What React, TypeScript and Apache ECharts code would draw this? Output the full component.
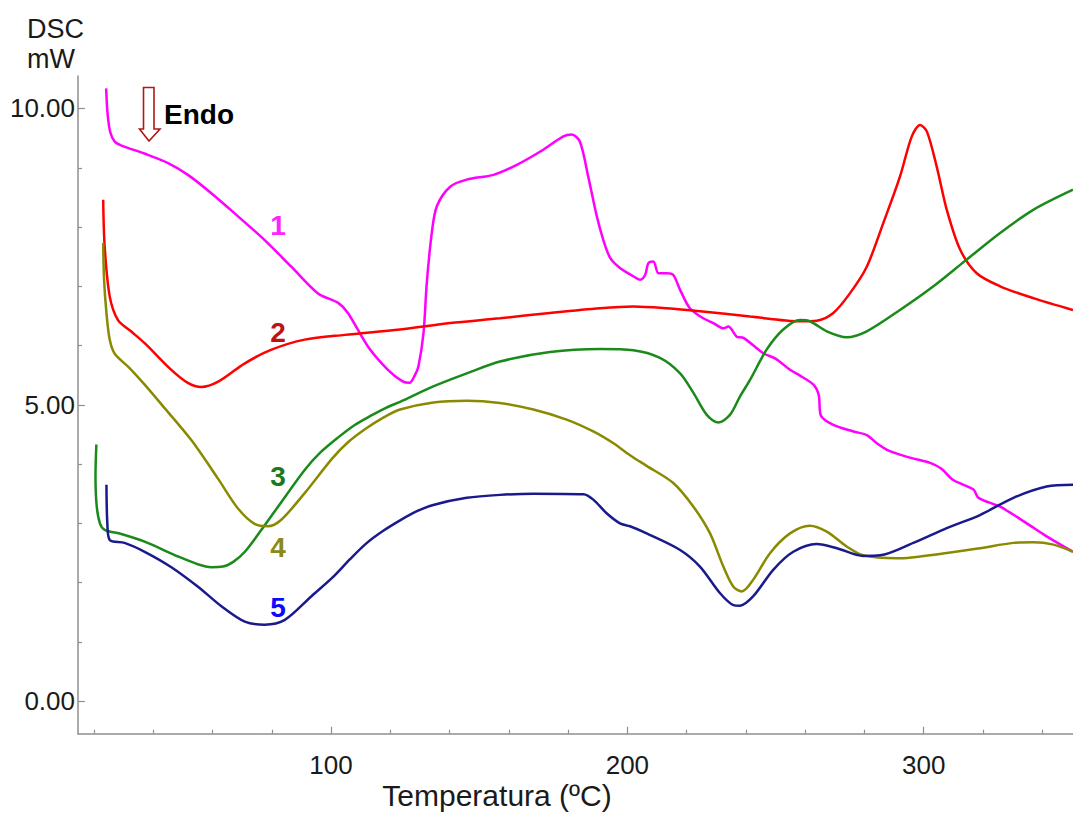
import React, { useEffect, useRef } from "react";
import * as echarts from "echarts";

// Temperature (ºC) vs DSC (mW) for the five samples
const curve1: [number, number][] = [
  [24.1, 10.34], [24.6, 9.9], [25.5, 9.6], [27.0, 9.44], [29.5, 9.37], [37.0, 9.24], [45.0, 9.08],
  [51.7, 8.88], [59.6, 8.57], [68.6, 8.18], [77.6, 7.78], [86.6, 7.33], [95.6, 6.88], [102.4, 6.72],
  [105.7, 6.55], [112.5, 5.98], [119.2, 5.59], [124.0, 5.4], [126.5, 5.37], [128.3, 5.5], [129.5, 5.65],
  [131.2, 6.21], [132.3, 7.05], [134.0, 7.9], [135.7, 8.35], [140.2, 8.68], [145.8, 8.8], [154.8, 8.88],
  [162.7, 9.05], [170.5, 9.27], [178.4, 9.53], [181.2, 9.56], [184.0, 9.44], [186.8, 8.85], [189.7, 8.18],
  [191.9, 7.78], [194.2, 7.48], [197.5, 7.31], [202.0, 7.17], [204.3, 7.11], [206.0, 7.19], [207.1, 7.39],
  [208.8, 7.42], [210.5, 7.22], [213.3, 7.22], [215.5, 7.19], [217.8, 6.94], [221.1, 6.63], [225.6, 6.46],
  [229.0, 6.38], [232.4, 6.29], [234.1, 6.32], [236.9, 6.15], [239.2, 6.13], [245.9, 5.87], [250.0, 5.78],
  [254.9, 5.59], [258.0, 5.5], [262.8, 5.34], [264.6, 5.16], [265.3, 4.82], [269.5, 4.66], [276.3, 4.55],
  [280.8, 4.49], [284.2, 4.35], [287.6, 4.24], [292.0, 4.16], [296.0, 4.1], [302.2, 4.02], [306.0, 3.92],
  [310.0, 3.73], [316.8, 3.57], [318.5, 3.43], [325.8, 3.28], [334.8, 3.0], [341.5, 2.78], [350.4, 2.52],
];

const curve2: [number, number][] = [
  [23.1, 8.46], [23.6, 7.67], [25.3, 6.83], [28.1, 6.43], [32.5, 6.24], [37.1, 6.04], [46.1, 5.59],
  [51.7, 5.37], [56.2, 5.3], [61.9, 5.39], [70.9, 5.7], [79.9, 5.93], [91.1, 6.1], [104.6, 6.18],
  [123.3, 6.27], [140.2, 6.38], [157.0, 6.46], [173.9, 6.55], [190.8, 6.63], [202.0, 6.66], [213.3, 6.63],
  [224.5, 6.58], [241.4, 6.49], [258.3, 6.41], [263.9, 6.42], [269.5, 6.55], [275.1, 6.88], [280.8, 7.33],
  [286.4, 8.07], [292.0, 8.85], [296.0, 9.53], [298.8, 9.72], [301.1, 9.61], [304.4, 9.02], [307.8, 8.29],
  [312.3, 7.62], [317.9, 7.22], [325.8, 7.0], [337.0, 6.8], [350.4, 6.6],
];

const curve3: [number, number][] = [
  [20.8, 4.33], [20.5, 3.8], [20.9, 3.3], [22.0, 3.0], [23.6, 2.89], [29.2, 2.82], [37.1, 2.69],
  [48.4, 2.44], [55.0, 2.31], [59.6, 2.26], [63.5, 2.27], [67.0, 2.35], [70.9, 2.52], [76.5, 2.89],
  [82.1, 3.28], [91.1, 3.9], [96.5, 4.2], [102.4, 4.45], [108.0, 4.66], [113.6, 4.82], [118.5, 4.95],
  [123.3, 5.05], [134.5, 5.31], [145.8, 5.53], [157.0, 5.73], [173.9, 5.89], [190.8, 5.94], [202.0, 5.92],
  [211.0, 5.79], [217.8, 5.53], [222.3, 5.2], [226.8, 4.83], [230.7, 4.7], [234.6, 4.83], [238.0, 5.14],
  [241.4, 5.42], [247.0, 5.93], [252.6, 6.27], [258.3, 6.43], [261.6, 6.41], [267.3, 6.24], [274.0, 6.14],
  [280.8, 6.24], [292.0, 6.6], [303.3, 7.0], [314.5, 7.45], [325.8, 7.9], [337.0, 8.29], [350.4, 8.63],
];

const curve4: [number, number][] = [
  [23.1, 7.73], [23.4, 7.11], [24.2, 6.55], [25.3, 6.1], [27.0, 5.86], [32.0, 5.62], [37.1, 5.34],
  [43.9, 4.94], [52.9, 4.4], [61.9, 3.75], [68.6, 3.25], [74.2, 2.99], [78.7, 2.95], [83.2, 3.06],
  [91.1, 3.51], [100.5, 4.1], [106.0, 4.38], [111.8, 4.6], [117.5, 4.78], [123.3, 4.92], [134.5, 5.04],
  [145.8, 5.07], [157.0, 5.03], [168.3, 4.92], [179.5, 4.75], [188.5, 4.55], [195.3, 4.35], [200.9, 4.15],
  [206.5, 3.97], [215.5, 3.68], [222.3, 3.28], [227.9, 2.83], [232.4, 2.27], [235.8, 1.93], [238.6, 1.85],
  [242.5, 2.05], [248.2, 2.5], [254.9, 2.83], [261.6, 2.96], [267.3, 2.86], [274.0, 2.61], [279.6, 2.46],
  [290.9, 2.41], [307.8, 2.5], [319.0, 2.58], [330.3, 2.67], [337.0, 2.68], [343.8, 2.64], [350.4, 2.52],
];

const curve5: [number, number][] = [
  [24.2, 3.65], [24.5, 3.0], [25.3, 2.72], [30.3, 2.67], [37.1, 2.52], [46.1, 2.26], [55.1, 1.93],
  [63.0, 1.6], [70.9, 1.34], [77.6, 1.29], [84.4, 1.37], [93.4, 1.77], [100.8, 2.1], [106.5, 2.4],
  [112.1, 2.67], [117.5, 2.87], [123.3, 3.05], [128.8, 3.2], [134.5, 3.31], [145.8, 3.43], [157.0, 3.48],
  [168.3, 3.5], [185.2, 3.49], [188.5, 3.4], [193.0, 3.17], [197.5, 3.0], [200.9, 2.95], [206.5, 2.83],
  [217.8, 2.55], [224.5, 2.27], [231.3, 1.82], [235.8, 1.62], [238.0, 1.61], [242.5, 1.77], [249.3, 2.22],
  [256.0, 2.52], [263.9, 2.65], [270.7, 2.58], [279.6, 2.45], [285.3, 2.46], [296.5, 2.67], [307.8, 2.92],
  [319.0, 3.14], [330.3, 3.43], [341.5, 3.62], [350.4, 3.65],
];

const curveNames = ["1", "2", "3", "4", "5"];
const curveColors = ["#ff00ff", "#ff0000", "#1a8a1a", "#8a8a00", "#1a1a8c"];
const labelColors = ["#ff22ff", "#c01010", "#1a7a1a", "#8a8a1a", "#0a0aff"];

const xMajorTicks = [100, 200, 300];
const xMinorTicks = [20, 40, 60, 80, 120, 140, 160, 180, 220, 240, 260, 280, 320, 340];
const yMajorTicks = [0, 5, 10];
const yMinorTicks = [1, 2, 3, 4, 6, 7, 8, 9];

const X_MIN = 14.6;
const X_MAX = 350.4;
const Y_MIN = -0.55;
const Y_MAX = 10.55;

const FONT = '"Liberation Sans", Arial, Helvetica, sans-serif';
const AXIS_COLOR = "#8f8f8f";

export default function App() {
  const ref = useRef<HTMLDivElement>(null);

  useEffect(() => {
    if (!ref.current) return;
    const chart = echarts.init(ref.current, undefined, { renderer: "svg" });
    const curves = [curve1, curve2, curve3, curve4, curve5];

    const baseX = {
      type: "value",
      min: X_MIN,
      max: X_MAX,
      position: "bottom",
      splitLine: { show: false },
    };
    const baseY = {
      type: "value",
      min: Y_MIN,
      max: Y_MAX,
      position: "left",
      splitLine: { show: false },
    };

    const option: any = {
      animation: false,
      backgroundColor: "#ffffff",
      grid: {
        left: 78,
        right: 0,
        top: 75.9,
        bottom: 83.3,
        containLabel: false,
        outerBoundsMode: "none",
      },
      xAxis: [
        {
          ...baseX,
          axisLine: { show: true, onZero: false, lineStyle: { color: AXIS_COLOR, width: 1.5 } },
          axisTick: {
            show: true,
            inside: true,
            length: 4,
            customValues: xMinorTicks,
            lineStyle: { color: AXIS_COLOR, width: 1.2 },
          },
          axisLabel: { show: false },
        },
        {
          ...baseX,
          axisLine: { show: false, onZero: false },
          axisTick: {
            show: true,
            inside: true,
            length: 7,
            customValues: xMajorTicks,
            lineStyle: { color: AXIS_COLOR, width: 1.2 },
          },
          axisLabel: {
            show: true,
            customValues: xMajorTicks,
            fontSize: 26,
            fontFamily: FONT,
            color: "#1a1a1a",
            margin: 18,
          },
        },
      ],
      yAxis: [
        {
          ...baseY,
          axisLine: { show: true, onZero: false, lineStyle: { color: AXIS_COLOR, width: 1.5 } },
          axisTick: {
            show: true,
            inside: true,
            length: 4,
            customValues: yMinorTicks,
            lineStyle: { color: AXIS_COLOR, width: 1.2 },
          },
          axisLabel: { show: false },
        },
        {
          ...baseY,
          axisLine: { show: false, onZero: false },
          axisTick: {
            show: true,
            inside: true,
            length: 7,
            customValues: yMajorTicks,
            lineStyle: { color: AXIS_COLOR, width: 1.2 },
          },
          axisLabel: {
            show: true,
            customValues: yMajorTicks,
            formatter: (v: number) => v.toFixed(2),
            fontSize: 26,
            fontFamily: FONT,
            color: "#1a1a1a",
            margin: 3,
          },
        },
      ],
      series: curves.map((d, i) => ({
        name: curveNames[i],
        type: "line",
        xAxisIndex: 0,
        yAxisIndex: 0,
        data: d,
        showSymbol: false,
        smooth: 0.3,
        clip: true,
        lineStyle: { color: curveColors[i], width: 2.5 },
        itemStyle: { color: curveColors[i] },
      })),
      graphic: [
        {
          type: "text",
          left: 27,
          top: 15,
          style: { text: "DSC", font: `27px ${FONT}`, fill: "#1a1a1a" },
        },
        {
          type: "text",
          left: 27,
          top: 45,
          style: { text: "mW", font: `27px ${FONT}`, fill: "#1a1a1a" },
        },
        {
          type: "text",
          x: 497,
          y: 795,
          style: {
            text: "Temperatura (ºC)",
            font: `30px ${FONT}`,
            fill: "#1a1a1a",
            align: "center",
            verticalAlign: "middle",
          },
        },
        {
          type: "polygon",
          shape: {
            points: [
              [143.5, 87.5], [154, 87.5], [154, 129], [160, 129], [149, 141], [139.5, 129], [143.5, 129],
            ],
          },
          style: { fill: "#ffffff", stroke: "#b01818", lineWidth: 1.6 },
        },
        {
          type: "text",
          x: 164,
          y: 114,
          style: {
            text: "Endo",
            font: `bold 28px ${FONT}`,
            fill: "#000000",
            verticalAlign: "middle",
          },
        },
        ...[
          [278, 225],
          [278, 332],
          [278, 476],
          [278, 547],
          [278, 607],
        ].map((p, i) => ({
          type: "text",
          x: p[0],
          y: p[1],
          style: {
            text: curveNames[i],
            font: `bold 28px ${FONT}`,
            fill: labelColors[i],
            align: "center",
            verticalAlign: "middle",
          },
        })),
      ],
    };

    chart.setOption(option);
    return () => chart.dispose();
  }, []);

  return (
    <div
      ref={ref}
      style={{ position: "fixed", left: 0, top: 0, width: 1073, height: 817, background: "#fff" }}
    />
  );
}
